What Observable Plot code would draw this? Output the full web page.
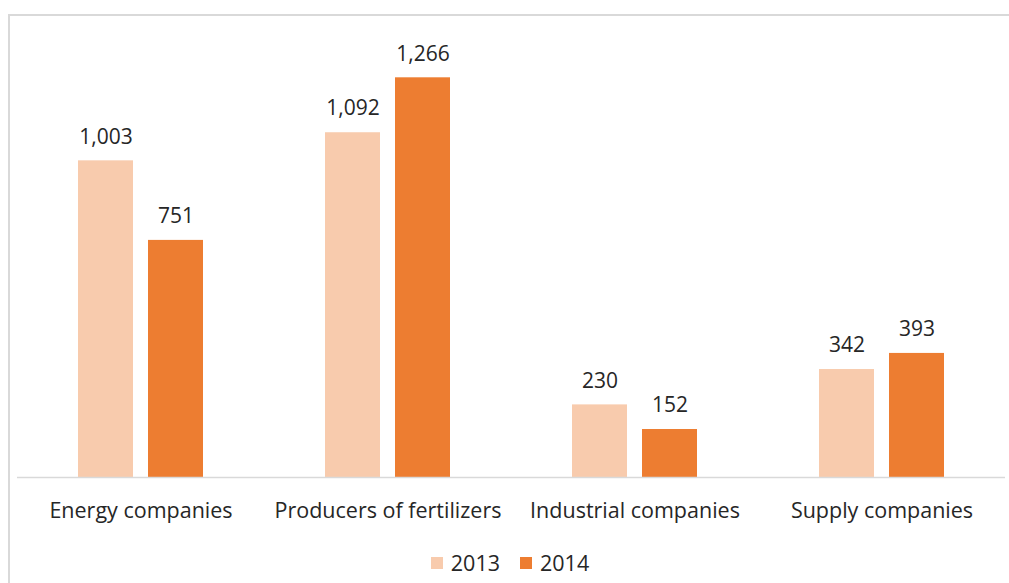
<!DOCTYPE html>
<html>
<head>
<meta charset="utf-8">
<script src="https://cdn.jsdelivr.net/npm/d3@7"></script>
<script src="https://cdn.jsdelivr.net/npm/@observablehq/plot@0.6"></script>
<style>
  html, body { margin: 0; padding: 0; background: #fff; }
  #frame {
    position: absolute; left: 8px; top: 14px;
    width: 1010px; height: 600px;
    border: 2px solid #d9d9d9; border-right: none; border-bottom: none;
    box-sizing: border-box;
  }
  #chart { position: absolute; left: 0px; top: -1px; }
  #legend { position: absolute; left: 0px; top: 532px; width: 1000px; display: flex; justify-content: center; gap: 20px;
    font-family: "Open Sans", sans-serif; font-size: 21.5px; color: #262626; }
  .sw { display: inline-flex; align-items: center; gap: 8px; }
  .sw span.box { width: 12px; height: 12px; display: inline-block; }
</style>
</head>
<body>
<div id="frame"><div id="chart"></div><div id="legend"></div></div>
<script>
const categories = ["Energy companies", "Producers of fertilizers", "Industrial companies", "Supply companies"];
const years = ["2013", "2014"];
const values2013 = [1003, 1092, 230, 342];
const values2014 = [751, 1266, 152, 393];
const colors = ["#F8CBAD", "#ED7D31"];

const data = [];
categories.forEach((c, i) => {
  data.push({category: c, year: years[0], value: values2013[i]});
  data.push({category: c, year: years[1], value: values2014[i]});
});

const fmt = d3.format(",");

const chart = Plot.plot({
  width: 1000,
  height: 512,
  marginLeft: 7,
  marginRight: 5,
  marginTop: 20,
  marginBottom: 50,
  style: {fontFamily: "'Open Sans', sans-serif", background: "transparent"},
  fx: {domain: categories, padding: 0, label: null},
  x: {domain: years, paddingInner: 0.211, paddingOuter: 0.845, axis: null},
  y: {domain: [0, 1400], axis: null},
  color: {domain: years, range: colors},
  marks: [
    Plot.barY(data, {fx: "category", x: "year", y: "value", fill: "year"}),
    Plot.ruleY([0], {stroke: "#d9d9d9", strokeWidth: 1.5}),
    Plot.text(data, {fx: "category", x: "year", y: "value", text: d => fmt(d.value), dy: -24, fontSize: 21, fill: "#262626"}),
    Plot.axisFx({anchor: "bottom", tickSize: 0, tickPadding: 25, fontSize: 21.5, fill: "#262626", label: null})
  ]
});
document.getElementById("chart").appendChild(chart);

const legend = document.getElementById("legend");
years.forEach((y, i) => {
  const s = document.createElement("span");
  s.className = "sw";
  s.innerHTML = `<span class="box" style="background:${colors[i]}"></span>${y}`;
  legend.appendChild(s);
});
</script>
</body>
</html>
